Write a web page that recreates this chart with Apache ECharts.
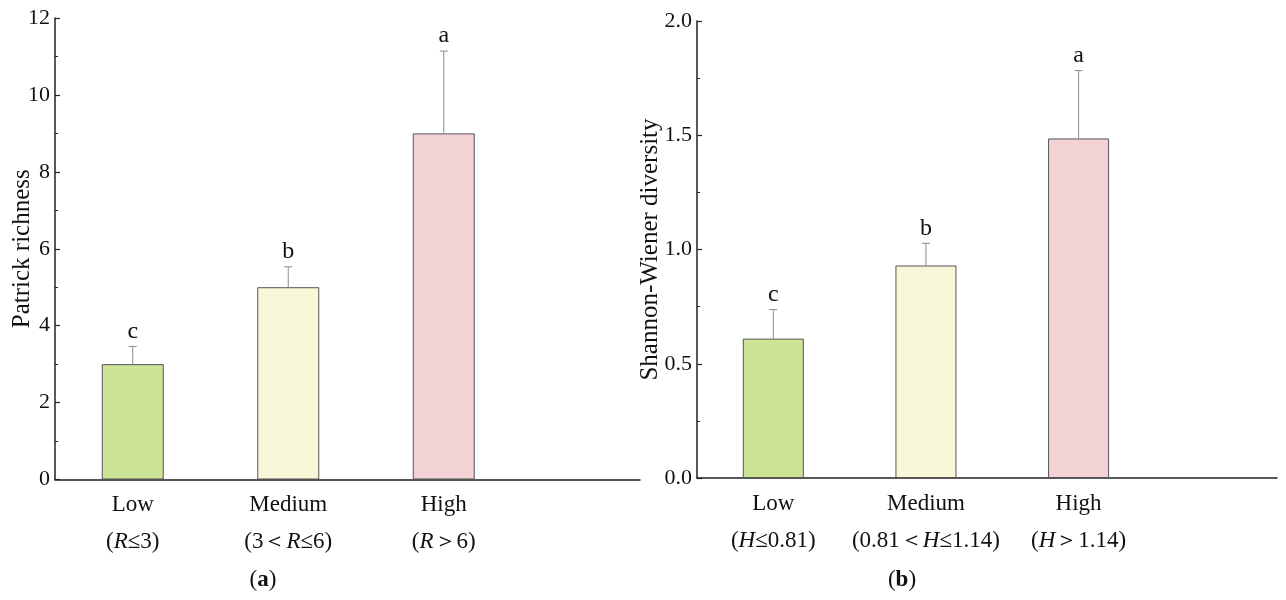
<!DOCTYPE html>
<html>
<head>
<meta charset="utf-8">
<title>Richness and diversity by class</title>
<script src="https://cdn.jsdelivr.net/npm/echarts@6/dist/echarts.min.js"></script>
<style>
  html, body { margin: 0; padding: 0; background: #fff; }
  #chart { width: 1286px; height: 600px; }
</style>
</head>
<body>
<div id="chart"></div>
<script>
// Categories and group labels
var categories = ["Low", "Medium", "High"];
var richnessPre = ["(", "(3\uFF1C", "("];
var richnessPost = ["\u22643)", "\u22646)", "\uFF1E6)"];
var diversityPre = ["(", "(0.81\uFF1C", "("];
var diversityPost = ["\u22640.81)", "\u22641.14)", "\uFF1E1.14)"];

// Panel (a): Patrick richness, mean and SD
var richnessMean = [3.0, 5.0, 9.0];
var richnessSd = [0.46, 0.53, 2.14];
var richnessLetters = ["c", "b", "a"];

// Panel (b): Shannon-Wiener diversity, mean and SD
var diversityMean = [0.61, 0.93, 1.486];
var diversitySd = [0.127, 0.097, 0.297];
var diversityLetters = ["c", "b", "a"];

var barColors = ["#cde496", "#f8f8d8", "#f2d2d5"];
var serif = "Liberation Serif, Times New Roman, serif";

var chart = echarts.init(document.getElementById("chart"));

function barData(means) {
  return means.map(function (v, i) {
    return { value: [i + 1, v], itemStyle: { color: barColors[i] } };
  });
}

function errData(means, sds) {
  return means.map(function (v, i) {
    return [i + 1, v, v + sds[i]];
  });
}

function errRender(letters) {
  return function (params, api) {
    var base = api.coord([api.value(0), api.value(1)]);
    var top = api.coord([api.value(0), api.value(2)]);
    var lineStyle = { stroke: "#8c8c8c", lineWidth: 1 };
    return {
      type: "group",
      children: [
        { type: "line", shape: { x1: base[0], y1: base[1], x2: top[0], y2: top[1] }, style: lineStyle },
        { type: "line", shape: { x1: top[0] - 4, y1: top[1], x2: top[0] + 4, y2: top[1] }, style: lineStyle },
        {
          type: "text",
          style: {
            x: top[0], y: top[1] - 3,
            text: letters[params.dataIndex],
            fill: "#111", font: "24px " + serif,
            textAlign: "center", textVerticalAlign: "bottom"
          }
        }
      ]
    };
  };
}

function xLabel(pre, post) {
  return function (value) {
    var i = Math.round(value) - 1;
    if (i < 0 || i > 2) return "";
    var v = pre === richnessPre ? "R" : "H";
    return "{t|" + categories[i] + "}\n{t|" + pre[i] + "}{i|" + v + "}{t|" + post[i] + "}";
  };
}

function xAxisOpt(gridIndex, max, pre, post) {
  return {
    type: "value",
    gridIndex: gridIndex,
    min: 0.5,
    max: max,
    axisLine: { show: true, lineStyle: { color: "#222", width: 1.5 } },
    axisTick: { show: false },
    splitLine: { show: false },
    axisLabel: {
      customValues: [1, 2, 3],
      margin: 7,
      formatter: xLabel(pre, post),
      rich: {
        t: { fontFamily: serif, fontSize: 23, color: "#111", lineHeight: 37 },
        i: { fontFamily: serif, fontSize: 23, color: "#111", fontStyle: "italic", lineHeight: 37 }
      }
    }
  };
}

function yAxisOpt(gridIndex, name, max, interval, nameGap, fmt) {
  return {
    type: "value",
    gridIndex: gridIndex,
    min: 0,
    max: max,
    interval: interval,
    name: name,
    nameLocation: "middle",
    nameGap: nameGap,
    nameMoveOverlap: false,
    nameTextStyle: { fontFamily: serif, fontSize: 25, color: "#111" },
    axisLine: { show: true, lineStyle: { color: "#222", width: 1.5 } },
    axisTick: { show: true, inside: true, length: 5, lineStyle: { color: "#222", width: 1.2 } },
    minorTick: { show: true, splitNumber: 2, length: 3, lineStyle: { color: "#222", width: 1 } },
    splitLine: { show: false },
    axisLabel: { fontFamily: serif, fontSize: 22, color: "#111", margin: 5, formatter: fmt }
  };
}

var option = {
  animation: false,
  grid: [
    { left: 55, top: 18, width: 585, height: 461.5, containLabel: false, outerBoundsMode: "none" },
    { left: 697, top: 21, width: 580, height: 457, containLabel: false, outerBoundsMode: "none" }
  ],
  xAxis: [
    xAxisOpt(0, 4.262, richnessPre, richnessPost),
    xAxisOpt(1, 4.3, diversityPre, diversityPost)
  ],
  yAxis: [
    yAxisOpt(0, "Patrick richness", 12, 2, 20, function (v) { return String(v); }),
    yAxisOpt(1, "Shannon-Wiener diversity", 2, 0.5, 34, function (v) { return v.toFixed(1); })
  ],
  series: [
    {
      type: "bar", xAxisIndex: 0, yAxisIndex: 0, barWidth: 62,
      itemStyle: { borderColor: "#555", borderWidth: 1 },
      data: barData(richnessMean)
    },
    {
      type: "custom", xAxisIndex: 0, yAxisIndex: 0,
      renderItem: errRender(richnessLetters),
      data: errData(richnessMean, richnessSd), z: 3
    },
    {
      type: "bar", xAxisIndex: 1, yAxisIndex: 1, barWidth: 61,
      itemStyle: { borderColor: "#555", borderWidth: 1 },
      data: barData(diversityMean)
    },
    {
      type: "custom", xAxisIndex: 1, yAxisIndex: 1,
      renderItem: errRender(diversityLetters),
      data: errData(diversityMean, diversitySd), z: 3
    }
  ],
  graphic: [
    {
      type: "text", x: 263, y: 580,
      style: {
        text: "{p|(}{b|a}{p|)}", textAlign: "center", textVerticalAlign: "middle",
        rich: {
          p: { fontFamily: serif, fontSize: 23, fill: "#111" },
          b: { fontFamily: serif, fontSize: 23, fontWeight: "bold", fill: "#111" }
        }
      }
    },
    {
      type: "text", x: 902, y: 580,
      style: {
        text: "{p|(}{b|b}{p|)}", textAlign: "center", textVerticalAlign: "middle",
        rich: {
          p: { fontFamily: serif, fontSize: 23, fill: "#111" },
          b: { fontFamily: serif, fontSize: 23, fontWeight: "bold", fill: "#111" }
        }
      }
    }
  ]
};

chart.setOption(option);
</script>
</body>
</html>
